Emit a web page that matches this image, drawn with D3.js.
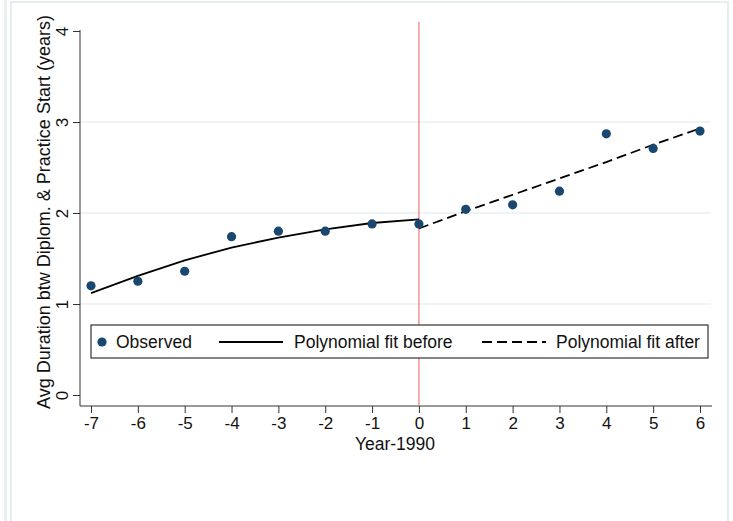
<!DOCTYPE html>
<html>
<head>
<meta charset="utf-8">
<script src="https://cdn.jsdelivr.net/npm/d3@7"></script>
<style>
  body { margin: 0; background: #fff; }
  svg { font-family: "Liberation Sans", Arial, sans-serif; }
</style>
</head>
<body>
<div id="chart"></div>
<script>
// data
const years = [-7, -6, -5, -4, -3, -2, -1, 0, 1, 2, 3, 4, 5, 6];
const observed = [1.20, 1.25, 1.36, 1.74, 1.80, 1.80, 1.88, 1.88, 2.04, 2.09, 2.24, 2.87, 2.71, 2.90];
const fitBeforeYears = [-7, -6, -5, -4, -3, -2, -1, 0];
const fitBefore = [1.12, 1.31, 1.48, 1.62, 1.73, 1.82, 1.89, 1.93];
const fitAfterYears = [0, 1, 2, 3, 4, 5, 6];
const fitAfter = [1.83, 2.02, 2.20, 2.38, 2.56, 2.75, 2.93];
const yTicks = [0, 1, 2, 3, 4];
const gridTicks = [1, 2, 3];
const legendLabels = ["Observed", "Polynomial fit before", "Polynomial fit after"];

const W = 733, H = 521;
const svg = d3.select("#chart").append("svg")
    .attr("width", W)
    .attr("height", H);

// faint outer frame
svg.append("rect").attr("x", 4).attr("y", 0).attr("width", 3).attr("height", H).attr("fill", "#eaf0f2");
svg.append("path")
    .attr("d", "M11," + H + "V2H728V" + H)
    .attr("fill", "none")
    .attr("stroke", "#e6edef")
    .attr("stroke-width", 2);

const x = d3.scaleLinear().domain([-7, 6]).range([91, 700]);
const y = d3.scaleLinear().domain([0, 4]).range([395, 31]);
const pLeft = 80, pRight = 712, pBottom = 406, pTop = 22;

// grid lines
svg.selectAll(".grid")
    .data(gridTicks)
    .enter().append("line")
    .attr("x1", pLeft).attr("x2", pRight - 1)
    .attr("y1", d => y(d)).attr("y2", d => y(d))
    .attr("stroke", "#e9eff2")
    .attr("stroke-width", 1.5);

// y axis
var yAxis = svg.append("g")
    .attr("transform", "translate(" + pLeft + ",0)")
    .call(d3.axisLeft(y).tickValues(yTicks).tickSize(7).tickFormat(d => String(d)));
yAxis.attr("font-size", 17).attr("font-family", null);
yAxis.select(".domain").attr("d", "M0," + (pTop + 8) + "V" + pBottom).attr("stroke", "#333");
yAxis.selectAll(".tick line").attr("stroke", "#333");
yAxis.selectAll(".tick text")
    .attr("fill", "#111")
    .attr("x", 0).attr("y", 0).attr("dy", 0)
    .attr("text-anchor", "middle")
    .attr("transform", "translate(-12,0) rotate(-90)");

// x axis
var xAxis = svg.append("g")
    .attr("transform", "translate(0," + pBottom + ")")
    .call(d3.axisBottom(x).tickValues(years).tickSize(7).tickPadding(4).tickFormat(d => String(d)));
xAxis.attr("font-size", 17).attr("font-family", null);
xAxis.select(".domain").attr("d", "M" + pLeft + ",0H" + pRight).attr("stroke", "#333");
xAxis.selectAll(".tick line").attr("stroke", "#333");
xAxis.selectAll(".tick text").attr("fill", "#111");

// axis titles
svg.append("text")
    .attr("transform", "translate(50,212) rotate(-90)")
    .attr("text-anchor", "middle")
    .attr("font-size", 18)
    .attr("fill", "#111")
    .text("Avg Duration btw Diplom. & Practice Start (years)");

svg.append("text")
    .attr("x", 395).attr("y", 450)
    .attr("text-anchor", "middle")
    .attr("font-size", 17.5)
    .attr("fill", "#111")
    .text("Year-1990");

// cutoff line
svg.append("line")
    .attr("x1", x(0)).attr("x2", x(0))
    .attr("y1", pTop).attr("y2", pBottom)
    .attr("stroke", "#f07878")
    .attr("stroke-width", 1.2);

// fitted lines
var line = d3.line().x(d => x(d[0])).y(d => y(d[1]));
svg.append("path")
    .datum(d3.zip(fitBeforeYears, fitBefore))
    .attr("d", line)
    .attr("fill", "none")
    .attr("stroke", "#000")
    .attr("stroke-width", 1.8);
svg.append("path")
    .datum(d3.zip(fitAfterYears, fitAfter))
    .attr("d", line)
    .attr("fill", "none")
    .attr("stroke", "#000")
    .attr("stroke-width", 1.8)
    .attr("stroke-dasharray", "10,5");

// observed points
svg.selectAll(".dot")
    .data(d3.zip(years, observed))
    .enter().append("circle")
    .attr("cx", d => x(d[0]))
    .attr("cy", d => y(d[1]))
    .attr("r", 4.6)
    .attr("fill", "#1a476f");

// legend
var lg = svg.append("g");
lg.append("rect")
    .attr("x", 91).attr("y", 325)
    .attr("width", 617).attr("height", 33)
    .attr("fill", "#fff")
    .attr("stroke", "#333")
    .attr("stroke-width", 1.2);
lg.append("circle").attr("cx", 102).attr("cy", 342).attr("r", 4.6).attr("fill", "#1a476f");
lg.append("line").attr("x1", 219).attr("x2", 283).attr("y1", 342).attr("y2", 342)
    .attr("stroke", "#000").attr("stroke-width", 1.8);
lg.append("line").attr("x1", 482).attr("x2", 546).attr("y1", 342).attr("y2", 342)
    .attr("stroke", "#000").attr("stroke-width", 1.8).attr("stroke-dasharray", "10,5");
lg.selectAll(".lt")
    .data(legendLabels)
    .enter().append("text")
    .attr("x", (d, i) => [116, 294, 556][i])
    .attr("y", 348)
    .attr("font-size", 17.5)
    .attr("fill", "#111")
    .text(d => d);
</script>
</body>
</html>
